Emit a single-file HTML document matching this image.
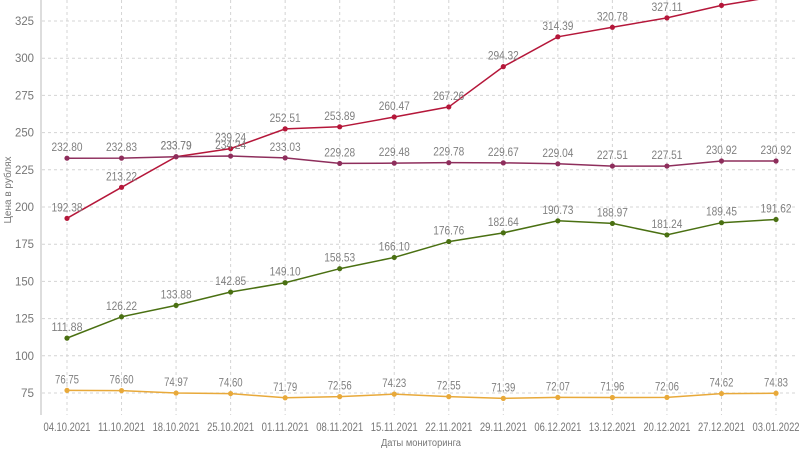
<!DOCTYPE html>
<html><head><meta charset="utf-8"><style>
body{margin:0;background:#fff;width:800px;height:449px;overflow:hidden}
svg{display:block;font-family:"Liberation Sans","DejaVu Sans",sans-serif}
</style></head><body>
<svg id="c" width="800" height="449" xmlns="http://www.w3.org/2000/svg"></svg>
<script>
const s=document.getElementById('c');
const X=i=>67+i*54.54, Y=v=>393-(v-75)*1.488;
let h='';
const dates=['04.10.2021','11.10.2021','18.10.2021','25.10.2021','01.11.2021','08.11.2021','15.11.2021','22.11.2021','29.11.2021','06.12.2021','13.12.2021','20.12.2021','27.12.2021','03.01.2022'];
for(let v=75;v<=325;v+=25){h+=`<line x1="42" x2="795" y1="${Y(v)}" y2="${Y(v)}" stroke="#d4d4d4" stroke-dasharray="3,3"/><text x="34" y="${Y(v)+4}" text-anchor="end" font-size="12" fill="#777" textLength="${v>=100?19:13}" lengthAdjust="spacingAndGlyphs">${v}</text>`;}
for(let i=0;i<14;i++){h+=`<line x1="${X(i)}" x2="${X(i)}" y1="0" y2="415" stroke="#d4d4d4" stroke-dasharray="3,3"/><text x="${X(i)-23.5}" y="431" font-size="12" fill="#777" textLength="47" lengthAdjust="spacingAndGlyphs">${dates[i]}</text>`;}
h+=`<line x1="41" x2="41" y1="0" y2="415" stroke="#bbb"/>`;
const series=[
['#b5173a',[192.38,213.22,233.79,239.24,252.51,253.89,260.47,267.26,294.32,314.39,320.78,327.11,335.5,341.5]],
['#8e2e5c',[232.80,232.83,233.79,234.24,233.03,229.28,229.48,229.78,229.67,229.04,227.51,227.51,230.92,230.92]],
['#4a7012',[111.88,126.22,133.88,142.85,149.10,158.53,166.10,176.76,182.64,190.73,188.97,181.24,189.45,191.62]],
['#e8a93a',[76.75,76.60,74.97,74.60,71.79,72.56,74.23,72.55,71.39,72.07,71.96,72.06,74.62,74.83]]];
series.forEach(([c,d])=>{
 h+=`<polyline fill="none" stroke="${c}" stroke-width="1.5" points="${d.map((v,i)=>X(i)+','+Y(v)).join(' ')}"/>`;
 d.forEach((v,i)=>{h+=`<circle cx="${X(i)}" cy="${Y(v)}" r="2.6" fill="${c}"/>`;
  const t=v.toFixed(2);const w=t.length>5?31:24;
  h+=`<text x="${X(i)-w/2}" y="${Y(v)-7}" font-size="12" fill="#808080" textLength="${w}" lengthAdjust="spacingAndGlyphs">${t}</text>`;});
});
h+=`<text x="381" y="446" font-size="10" fill="#777" textLength="80" lengthAdjust="spacingAndGlyphs">Даты мониторинга</text>`;
h+=`<text transform="translate(11,190) rotate(-90)" text-anchor="middle" font-size="10" fill="#777">Цена в рублях</text>`;
s.innerHTML=h;
</script>
</body></html>
